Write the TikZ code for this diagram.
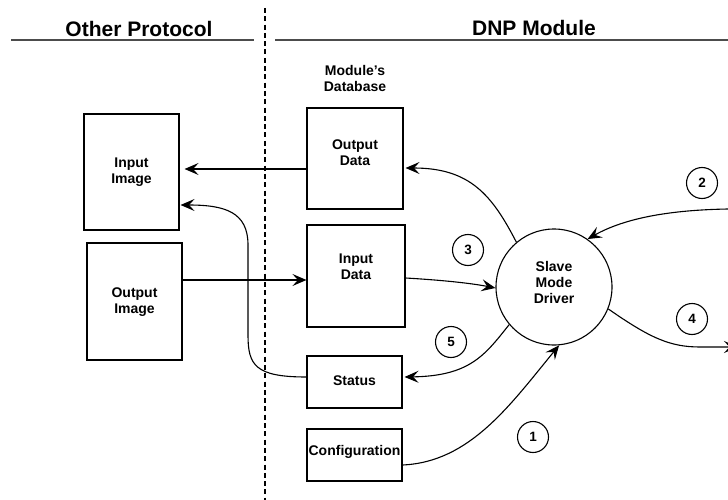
\documentclass[tikz,border=0pt]{standalone}
\usepackage{fontspec}
\setmainfont{Liberation Sans}
\usetikzlibrary{arrows.meta,calc}
\begin{document}
\begin{tikzpicture}[x=1pt,y=-1pt,
  box/.style={draw,line width=1.1pt,inner sep=0pt},
  lbl/.style={font=\bfseries\fontsize{14}{16}\selectfont,align=center,inner sep=0pt},
  hdr/.style={font=\bfseries\fontsize{21}{24}\selectfont,inner sep=0pt},
  hline/.style={draw=black!70,line width=1.7pt},
  num/.style={circle,draw,line width=1.1pt,minimum size=31pt,inner sep=0pt,font=\bfseries\fontsize{13.5}{15}\selectfont},
  arr/.style={line width=1.1pt,-{Stealth[length=14pt,width=12pt,inset=5.5pt]}},
  conn/.style={line width=1.1pt}]
\useasboundingbox (0,0) rectangle (728,500);
% headers
\node[hdr] (hOther) at (139,29) {Other Protocol};
\node[hdr] (hDNP) at (534,28) {DNP Module};
\coordinate (hl1) at (11,40); \coordinate (hl2) at (254,40);
\coordinate (hr1) at (275,40); \coordinate (hr2) at (728,40);
\draw[hline] (hl1) -- (hl2);
\draw[hline] (hr1) -- (hr2);
\coordinate (d1) at (265,8); \coordinate (d2) at (265,500);
\draw[line width=2pt,dash pattern=on 5pt off 3.3pt] (d1) -- (d2);
% boxes
\node[box,minimum width=95pt,minimum height=116pt] (inimg) at (131.5,172) {};
\node[lbl] (inimgt) at (131.5,172) {Input\\Image};
\node[box,minimum width=95pt,minimum height=117pt] (outimg) at (134.5,301.5) {};
\node[lbl] (outimgt) at (134.5,302) {Output\\Image};
\node[lbl] (dbt) at (355,78) {Module’s\\Database};
\node[box,minimum width=96pt,minimum height=101pt] (outdata) at (355,158.5) {};
\node[lbl] (outdatat) at (355,153) {Output\\Data};
\node[box,minimum width=98pt,minimum height=102pt] (indata) at (356,276) {};
\node[lbl] (indatat) at (356,267) {Input\\Data};
\node[box,minimum width=95pt,minimum height=52pt] (status) at (354.5,382) {};
\node[lbl] (statust) at (354.5,381) {Status};
\node[box,minimum width=95pt,minimum height=52pt] (config) at (354.5,455) {};
\node[lbl] (configt) at (354.5,452) {Configuration};
% driver
\node[circle,draw,line width=1.1pt,minimum size=116pt,inner sep=0pt] (drv) at (554,287) {};
\node[lbl] (drvt) at (554,282) {Slave\\Mode\\Driver};
% numbers
\node[num] (n1) at (533,437) {1};
\node[num] (n2) at (702,183) {2};
\node[num] (n3) at (468,250) {3};
\node[num] (n4) at (692,319) {4};
\node[num] (n5) at (451,342) {5};
% connectors
\draw[arr] (outdata.west |- 0,169) -- ($(inimg.east |- 0,169)+(5,0)$);
\draw[arr] (outimg.east |- 0,280) -- (indata.west |- 0,280);
\draw[arr] (status.west |- 0,377) .. controls (255,377) and (248,365) .. (248,335)
   -- (248,245) .. controls (248,212) and (225,205) .. ($(inimg.east |- 0,205)+(1,0)$);
\draw[arr] (indata.east |- 0,278) .. controls (440,280) and (470,283) .. (drv.west |- 0,288);
\draw[arr] (drv.130) .. controls (492,195) and (470,168) .. ($(outdata.east |- 0,168)+(2,0)$);
\draw[arr] (drv.-140) .. controls (485,355) and (470,376) .. ($(status.east |- 0,377)+(2,0)$);
\draw[arr] (config.east |- 0,465) .. controls (470,462) and (510,405) .. (drv.-85);
\coordinate (e2) at (728,209);
\draw[arr] (e2) .. controls (670,210) and (625,218) .. (drv.55);
\coordinate (e4) at (738,347);
\draw[arr] (drv.-22) .. controls (650,338) and (670,347) .. (700,347) -- (e4);
\end{tikzpicture}
\end{document}
